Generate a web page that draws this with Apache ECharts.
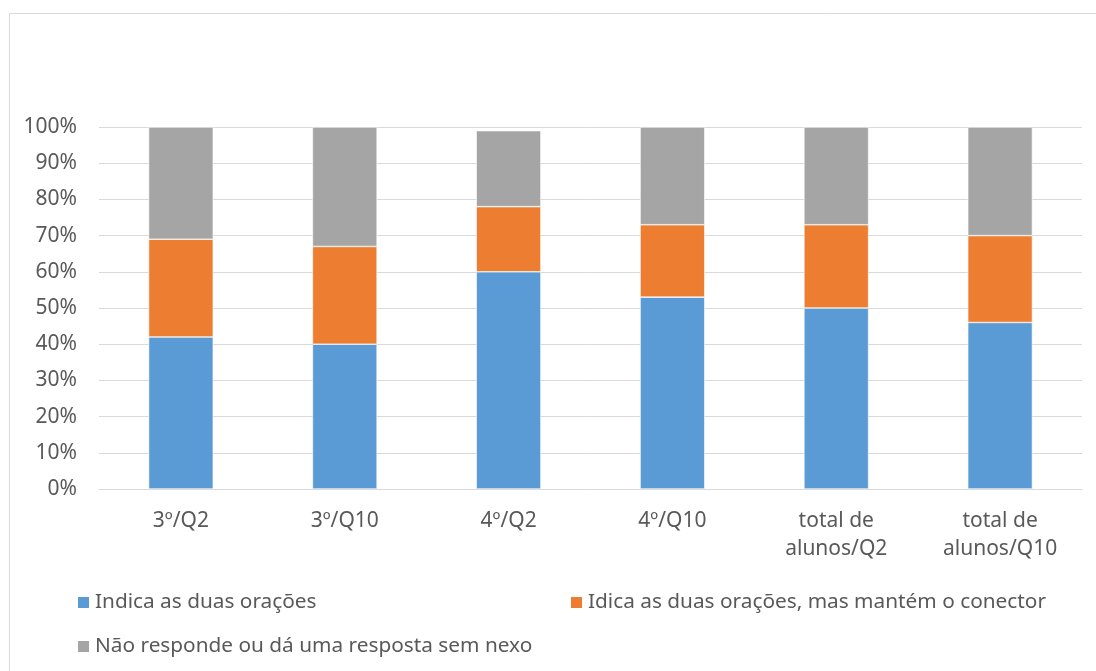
<!DOCTYPE html>
<html>
<head>
<meta charset="utf-8">
<script src="https://cdn.jsdelivr.net/npm/echarts@6/dist/echarts.min.js"></script>
<style>
  html, body { margin: 0; padding: 0; background: #fff; }
  #chart { width: 1096px; height: 671px; }
</style>
</head>
<body>
<div id="chart"></div>
<script>
const categories = ['3º/Q2', '3º/Q10', '4º/Q2', '4º/Q10', 'total de\nalunos/Q2', 'total de\nalunos/Q10'];
const seriesNames = ['Indica as duas orações', 'Idica as duas orações, mas mantém o conector', 'Não responde ou dá uma resposta sem nexo'];
const indica = [42, 40, 60, 53, 50, 46];
const mantemConector = [27, 27, 18, 20, 23, 24];
const naoResponde = [31, 33, 21, 27, 27, 30];
const colors = ['#5b9bd5', '#ed7d31', '#a5a5a5'];
const yTicks = [0, 10, 20, 30, 40, 50, 60, 70, 80, 90, 100];

const FONT = 'Noto Sans';
const TXT = '#595959';

const chart = echarts.init(document.getElementById('chart'), null, { renderer: 'canvas' });

function legendAt(name, left, top) {
  return {
    data: [name], left: left, top: top, orient: 'horizontal', padding: 0,
    icon: 'rect', itemWidth: 13, itemHeight: 13, itemGap: 6,
    textStyle: { color: TXT, fontFamily: FONT, fontSize: 20.8 },
    selectedMode: false
  };
}

const seriesData = [indica, mantemConector, naoResponde];

chart.setOption({
  animation: false,
  backgroundColor: '#fff',
  graphic: [{
    type: 'rect', silent: true, z: -1,
    shape: { x: 9.5, y: 13.5, width: 1200, height: 800 },
    style: { fill: '#fff', stroke: '#d9d9d9', lineWidth: 1 }
  }],
  grid: { left: 99, right: 14, top: 127, bottom: 182, containLabel: false },
  legend: [
    legendAt(seriesNames[0], 76, 592),
    legendAt(seriesNames[1], 569, 592),
    legendAt(seriesNames[2], 76, 636)
  ],
  xAxis: {
    type: 'category', data: categories,
    axisLine: { lineStyle: { color: '#d9d9d9', width: 1 } },
    axisTick: { show: false },
    axisLabel: { color: TXT, fontFamily: FONT, fontSize: 21, margin: 18, lineHeight: 28, interval: 0 }
  },
  yAxis: {
    type: 'value', min: 0, max: 100, interval: 10,
    axisLine: { show: false }, axisTick: { show: false },
    axisLabel: { color: TXT, fontFamily: FONT, fontSize: 21, margin: 22,
      formatter: v => yTicks.includes(v) ? v + '%' : '' },
    splitLine: { lineStyle: { color: '#d9d9d9', width: 1 } }
  },
  series: seriesNames.map((n, i) => ({
    name: n, type: 'bar', stack: 'total', barWidth: '39.5%',
    data: seriesData[i],
    itemStyle: { color: colors[i], borderColor: '#ffffff', borderWidth: 0.6 }
  }))
});
</script>
</body>
</html>
